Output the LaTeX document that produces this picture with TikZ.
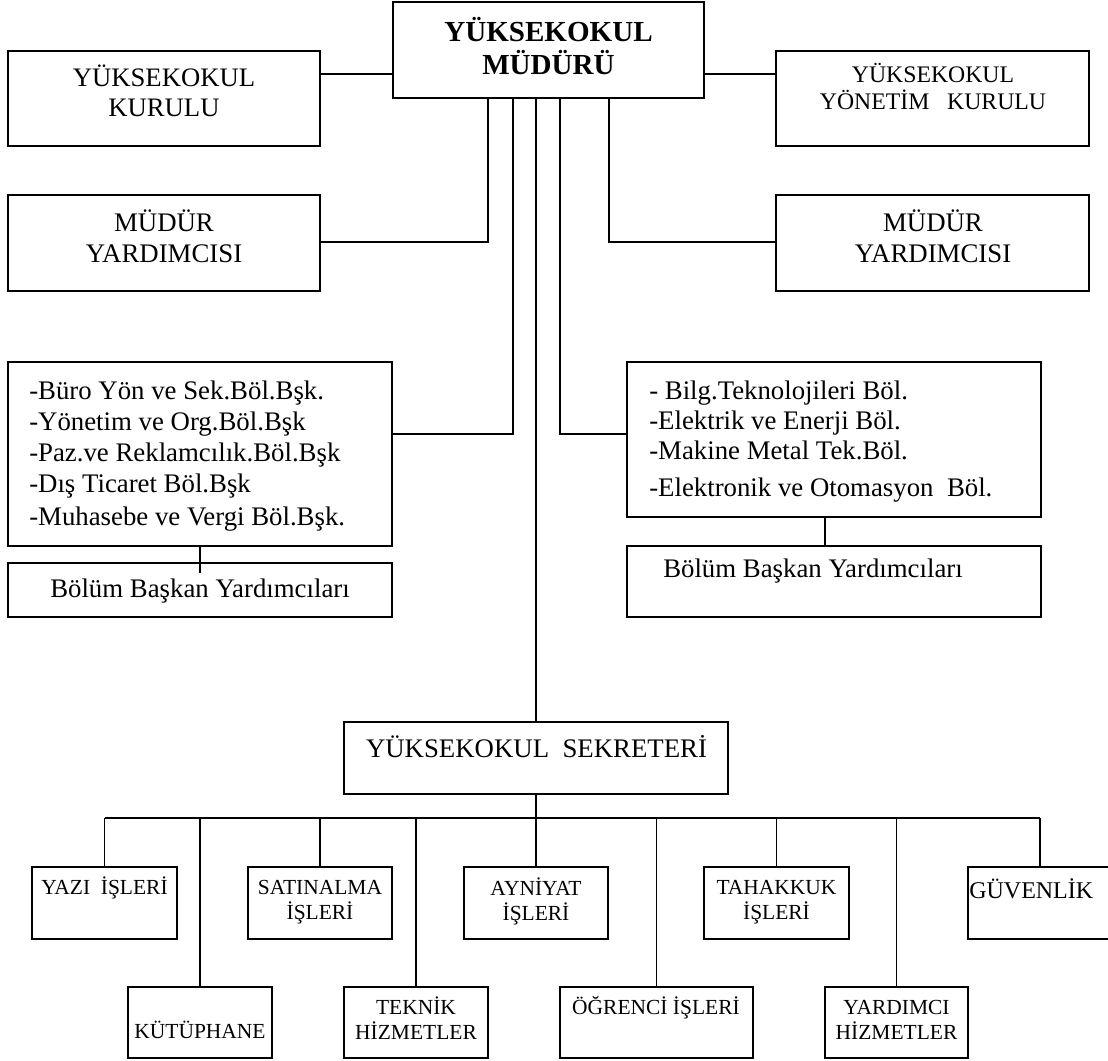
\documentclass[tikz,border=0pt]{standalone}
\usepackage{fontspec}
\setmainfont{Liberation Serif}
\usetikzlibrary{fit}
\begin{document}
\begin{tikzpicture}[x=0.75pt,y=-0.75pt,
  box/.style={draw, line width=1.3pt, inner sep=0pt},
  conn/.style={line width=1.1pt},
  mainconn/.style={line width=1.5pt},
  txt/.style={inner sep=0pt, align=center},
  midfont/.style={font=\fontsize{20.1pt}{23.25pt}\selectfont},
  lowfont/.style={font=\fontsize{16.1pt}{18.75pt}\selectfont}]
\useasboundingbox (0,0) rectangle (1108,1061);
% boxes
\node[box, fit={(393,2) (704,98)}] (mudur) {};
\node[box, fit={(8,51) (320,146)}] (kurulu) {};
\node[box, fit={(776,51) (1089,146)}] (ykurulu) {};
\node[box, fit={(8,195) (320,291)}] (lyard) {};
\node[box, fit={(776,195) (1089,291)}] (ryard) {};
\node[box, fit={(8,362) (392,546)}] (ldept) {};
\node[box, fit={(8,563) (392,617)}] (lbolum) {};
\node[box, fit={(627,362) (1041,517)}] (rdept) {};
\node[box, fit={(627,546) (1041,617)}] (rbolum) {};
\node[box, fit={(344,722) (728,794)}] (sek) {};
\node[box, fit={(32,867) (177,939)}] (yazi) {};
\node[box, fit={(248,867) (392,939)}] (satin) {};
\node[box, fit={(464,867) (608,939)}] (ayni) {};
\node[box, fit={(704,867) (849,939)}] (tahak) {};
\node[box, fit={(968,867) (1112,939)}] (guv) {};
\node[box, fit={(128,987) (272,1058)}] (kutup) {};
\node[box, fit={(344,987) (488,1058)}] (teknik) {};
\node[box, fit={(560,987) (753,1058)}] (ogr) {};
\node[box, fit={(825,987) (968,1058)}] (yard) {};
% texts
\node[txt, font=\bfseries\fontsize{21.8pt}{24.75pt}\selectfont] (tmudur) at (548.5,46) {YÜKSEKOKUL\\MÜDÜRÜ};
\node[txt, font=\fontsize{20pt}{22.5pt}\selectfont] (tkurulu) at (164,91) {YÜKSEKOKUL\\KURULU};
\node[txt, font=\fontsize{17.8pt}{20.25pt}\selectfont] (tykurulu) at (933,86.5) {YÜKSEKOKUL\\YÖNETİM\ \ \ KURULU};
\node[txt, midfont] (tlyard) at (164,236.5) {MÜDÜR\\YARDIMCISI};
\node[txt, midfont] (tryard) at (933,236.5) {MÜDÜR\\YARDIMCISI};
\node[txt, align=left, anchor=north west, font=\fontsize{20.1pt}{23.25pt}\selectfont] (tldept) at (29,381)
  {-Büro Yön ve Sek.Böl.Bşk.\\-Yönetim ve Org.Böl.Bşk\\-Paz.ve Reklamcılık.Böl.Bşk\\-Dış Ticaret Böl.Bşk\\[1.5pt]-Muhasebe ve Vergi Böl.Bşk.};
\node[txt, align=left, anchor=north west, font=\fontsize{20.1pt}{22.5pt}\selectfont] (trdept) at (649,381)
  {- Bilg.Teknolojileri Böl.\\-Elektrik ve Enerji Böl.\\-Makine Metal Tek.Böl.\\[5.25pt]-Elektronik ve Otomasyon\ \ Böl.};
\node[txt, midfont] (tlbolum) at (200,591.5) {Bölüm Başkan Yardımcıları};
\node[txt, midfont, anchor=west] (trbolum) at (663,571.5) {Bölüm Başkan Yardımcıları};
\node[txt, midfont] (tsek) at (536.5,747) {YÜKSEKOKUL\ \ SEKRETERİ};
\node[txt, lowfont] (tyazi) at (104.5,888) {YAZI\ \ İŞLERİ};
\node[txt, lowfont] (tsatin) at (320,902.5) {SATINALMA\\İŞLERİ};
\node[txt, lowfont] (tayni) at (536,901) {AYNİYAT\\İŞLERİ};
\node[txt, lowfont] (ttahak) at (776.5,902.5) {TAHAKKUK\\İŞLERİ};
\node[txt, anchor=west, font=\fontsize{18pt}{21pt}\selectfont] (tguv) at (969,888.5) {GÜVENLİK};
\node[txt, lowfont] (tkutup) at (200,1030) {KÜTÜPHANE};
\node[txt, lowfont] (tteknik) at (416,1018) {TEKNİK\\HİZMETLER};
\node[txt, lowfont] (togr) at (656,1008) {ÖĞRENCİ İŞLERİ};
\node[txt, lowfont] (tyard) at (896.5,1020) {YARDIMCI\\HİZMETLER};
% connectors
\coordinate (h1) at (0,74);
\draw[conn] (kurulu.east |- h1) -- (mudur.west |- h1);
\draw[conn] (mudur.east |- h1) -- (ykurulu.west |- h1);
\coordinate (c488) at (488,242);
\draw[conn] (mudur.south -| c488) -- (c488) -- (lyard.east |- c488);
\coordinate (c609) at (609,242);
\draw[conn] (mudur.south -| c609) -- (c609) -- (ryard.west |- c609);
\coordinate (c513) at (513,434);
\draw[conn] (mudur.south -| c513) -- (c513) -- (ldept.east |- c513);
\coordinate (c560) at (560,434);
\draw[conn] (mudur.south -| c560) -- (c560) -- (rdept.west |- c560);
\draw[mainconn] (mudur.south -| sek.north) -- (sek.north);
\coordinate (lb) at (200,573);
\draw[conn] (ldept.south) -- (lb);
\coordinate (rb) at (825,0);
\draw[conn] (rdept.south -| rb) -- (rbolum.north -| rb);
\coordinate (bus) at (0,818);
\draw[conn] (sek.south) -- (sek.south |- bus);
\draw[conn] (yazi.north |- bus) -- (guv.north |- bus);
\foreach \n in {yazi,kutup,satin,teknik,ayni,ogr,tahak,yard,guv}
  \draw[conn] (\n.north |- bus) -- (\n.north);
\end{tikzpicture}
\end{document}
